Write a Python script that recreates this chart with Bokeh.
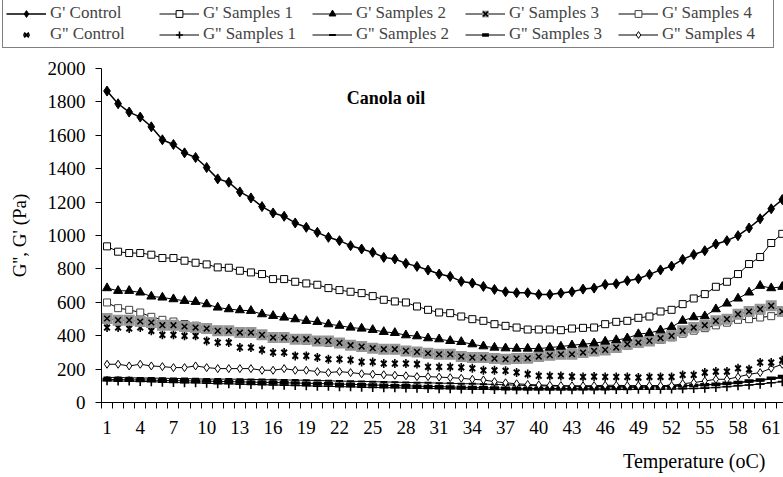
import math
from bokeh.plotting import figure
from bokeh.layouts import column, row
from bokeh.models import Range1d, FixedTicker, Legend, LegendItem, Label, ColumnDataSource
from bokeh.embed import file_html
from bokeh.resources import INLINE

temperature = list(range(1, 63))
x_tick_labels = list(range(1, 62, 3))
y_ticks = list(range(0, 2001, 200))

g1_control = [1865,1789,1739,1709,1651,1573,1545,1495,1467,1407,
              1339,1319,1261,1225,1173,1135,1115,1075,1049,1019,
              989,969,939,919,899,869,859,833,815,793,
              769,755,725,715,695,677,663,657,657,647,
              647,655,663,679,685,707,711,729,741,767,
              794,817,857,886,909,949,969,999,1045,1100,
              1160,1215]
g1_s1 = [935,903,895,895,885,865,865,849,837,827,
         809,807,789,779,769,739,739,723,713,705,
         685,673,663,655,637,615,605,599,575,555,
         539,535,515,499,489,469,459,449,437,437,
         437,433,443,447,449,469,483,489,507,515,
         545,555,589,623,649,693,723,769,829,871,
         955,1010]
g1_s2 = [685,669,669,659,635,629,619,609,603,589,
         569,559,553,549,529,519,509,499,489,483,
         469,460,449,443,435,423,417,403,397,385,
         379,369,363,349,337,329,325,323,323,323,
         329,335,343,349,355,365,374,385,410,416,
         433,452,490,511,517,559,593,623,659,699,
         685,693]
g1_s3 = [503,493,493,485,479,463,463,455,449,443,
         429,429,419,419,405,389,389,379,379,369,
         369,357,343,335,325,319,319,309,303,295,
         289,289,275,269,269,263,259,263,265,275,
         283,289,289,299,309,315,329,349,359,369,
         385,399,429,449,463,489,499,529,545,559,
         579,545]
g1_s4 = [599,565,555,539,513,495,485,470,460,450,
         435,428,418,410,400,392,385,376,370,362,
         357,350,342,334,325,318,313,307,300,294,
         288,285,278,272,268,264,260,262,265,270,
         278,284,288,295,305,312,325,340,352,362,
         375,390,412,430,445,462,478,495,499,509,
         517,539]
g2_control = [449,449,443,449,429,405,405,399,399,369,
              359,359,329,329,315,299,299,279,279,269,
              259,259,255,243,243,233,233,233,230,213,
              213,213,210,205,193,193,190,180,170,160,
              159,159,155,153,155,153,153,153,149,153,
              153,153,165,165,179,185,185,205,199,239,
              239,253]
g2_s1 = [130,128,128,126,125,122,120,118,118,115,
         113,112,110,108,107,105,104,102,100,98,
         97,95,94,92,90,89,88,87,85,84,
         83,82,81,80,79,78,77,77,76,76,
         76,76,76,76,77,77,78,78,79,80,
         80,81,82,84,86,90,95,100,105,110,
         118,125]
g2_s2 = [150,150,148,147,146,145,144,143,142,140,
         140,140,139,138,137,136,135,134,133,132,
         130,128,127,126,125,123,122,120,119,118,
         116,115,113,112,110,108,106,104,102,100,
         99,98,97,96,96,96,96,97,97,98,
         99,100,101,103,105,108,112,118,125,132,
         140,148]
g2_s3 = [138,137,136,135,134,132,131,130,129,128,
         126,125,124,122,121,120,118,117,115,114,
         112,110,109,107,105,103,101,100,98,96,
         95,93,91,90,88,87,86,85,84,84,
         84,84,84,85,85,86,87,88,90,92,
         94,96,99,102,106,110,115,120,128,135,
         145,155]
g2_s4 = [229,229,219,229,219,215,209,209,219,209,
         203,203,203,203,193,193,203,193,193,185,
         179,185,179,172,169,166,163,160,155,155,
         152,149,145,139,135,125,118,112,108,105,
         103,101,100,100,101,103,103,101,101,101,
         101,101,113,119,129,139,139,153,169,179,
         205,229]

series_names = ["G' Control", "G' Samples 1", "G' Samples 2", "G' Samples 3", "G' Samples 4",
                "G'' Control", "G'' Samples 1", "G'' Samples 2", "G'' Samples 3", "G'' Samples 4"]

FONT = "Liberation Serif"
GRAY = "#969696"

STYLES = {
    "g2_s1": [("line", dict(line_color="black", line_width=1)),
              ("scatter", dict(marker="cross", size=9, line_color="black", line_width=1.6))],
    "g2_s2": [("line", dict(line_color="black", line_width=1)),
              ("scatter", dict(marker="dash", size=7, line_color="black", line_width=2))],
    "g2_s3": [("line", dict(line_color="black", line_width=1)),
              ("scatter", dict(marker="dash", size=9, line_color="black", line_width=3.5))],
    "g2_s4": [("line", dict(line_color="black", line_width=1)),
              ("scatter", dict(marker="diamond", size=8, fill_color="white",
                               line_color="black", line_width=1))],
    "g2_c": [("scatter", dict(marker="x", size=8, line_color="black", line_width=2)),
             ("scatter", dict(marker="dash", angle=math.pi / 2, size=9, line_color="black", line_width=1.6))],
    "g1_s4": [("line", dict(line_color="black", line_width=1)),
              ("scatter", dict(marker="square", size=7, fill_color="white", line_color="#444444", line_width=1))],
    "g1_s3": [("line", dict(line_color="black", line_width=1)),
              ("scatter", dict(marker="square", size=11, fill_color=GRAY, line_color=None)),
              ("scatter", dict(marker="x", size=8, line_color="black", line_width=1.5))],
    "g1_s2": [("line", dict(line_color="black", line_width=1)),
              ("scatter", dict(marker="triangle", size=9, fill_color="black", line_color="black"))],
    "g1_s1": [("line", dict(line_color="black", line_width=1)),
              ("scatter", dict(marker="square", size=7, fill_color="white", line_color="black", line_width=1))],
    "g1_c": [("line", dict(line_color="black", line_width=1.5)),
             ("scatter", dict(marker="diamond", size=10, fill_color="black", line_color="black"))],
}
DATA = {"g1_c": g1_control, "g1_s1": g1_s1, "g1_s2": g1_s2, "g1_s3": g1_s3, "g1_s4": g1_s4,
        "g2_c": g2_control, "g2_s1": g2_s1, "g2_s2": g2_s2, "g2_s3": g2_s3, "g2_s4": g2_s4}
DRAW_ORDER = ["g2_s1", "g2_s2", "g2_s3", "g2_s4", "g2_c", "g1_s4", "g1_s3", "g1_s2", "g1_s1", "g1_c"]
LEGEND_ORDER = ["g1_c", "g1_s1", "g1_s2", "g1_s3", "g1_s4", "g2_c", "g2_s1", "g2_s2", "g2_s3", "g2_s4"]

src = ColumnDataSource(dict(t=temperature, **DATA))

# ---------------- main chart ----------------
p = figure(width=783, height=396, output_backend="svg", toolbar_location=None,
           x_range=Range1d(0.5, 62.11), y_range=Range1d(0, 2000),
           min_border_left=101, min_border_right=0, min_border_top=17, min_border_bottom=45)
p.xgrid.visible = False
p.ygrid.visible = False
p.outline_line_color = None

for key in DRAW_ORDER:
    for kind, kw in STYLES[key]:
        getattr(p, kind)("t", key, source=src, **kw)

# ---------------- legend strip: same series, viewed outside their range ----------------
lg = figure(width=783, height=51, output_backend="svg", toolbar_location=None,
            x_axis_type=None, y_axis_type=None, x_range=Range1d(1000, 1001), y_range=Range1d(0, 1),
            min_border_left=0, min_border_right=0, min_border_top=0, min_border_bottom=0)
lg.xgrid.visible = False
lg.ygrid.visible = False
lg.outline_line_color = None
items = []
for key, name in zip(LEGEND_ORDER, series_names):
    rs = [getattr(lg, kind)("t", key, source=src, **kw) for kind, kw in STYLES[key]]
    items.append(LegendItem(label=name, renderers=rs))
legend = Legend(items=items, orientation="horizontal", ncols=5, location=(2, 3),
                margin=0, padding=3, spacing=1, glyph_width=40, glyph_height=17,
                label_standoff=4, label_width=108, label_height=17,
                label_text_font=FONT, label_text_font_size="17px",
                border_line_color="black", border_line_width=1,
                background_fill_color="white", background_fill_alpha=1)
lg.add_layout(legend)

# ---------------- bottom strip carrying the x-axis title at the right ----------------
bt = figure(width=783, height=30, output_backend="svg", toolbar_location=None,
            x_axis_type=None, y_axis_type=None, x_range=Range1d(0, 1), y_range=Range1d(0, 1),
            min_border_left=0, min_border_right=0, min_border_top=0, min_border_bottom=0)
bt.xgrid.visible = False
bt.ygrid.visible = False
bt.outline_line_color = None
bt.add_layout(Label(x=765, y=17, x_units="screen", y_units="screen", text="Temperature (oC)",
                    text_align="right", text_baseline="middle", text_font=FONT,
                    text_font_size="20px", text_color="black"))

# x axis
xa = p.xaxis[0]
xa.ticker = FixedTicker(ticks=x_tick_labels, minor_ticks=[v - 0.5 for v in temperature] + [62.5])
xa.major_tick_out = 0
xa.major_tick_in = 0
xa.minor_tick_out = 6
xa.minor_tick_in = 0
xa.minor_tick_line_color = "black"
xa.axis_line_color = "black"
xa.major_label_standoff = 12
xa.major_label_text_font = FONT
xa.major_label_text_font_size = "19px"
xa.major_label_text_color = "black"

# y axis
ya = p.yaxis[0]
ya.ticker = FixedTicker(ticks=y_ticks)
ya.major_tick_out = 6
ya.major_tick_in = 0
ya.minor_tick_line_color = None
ya.axis_line_color = "black"
ya.major_label_standoff = 10
ya.major_label_text_font = FONT
ya.major_label_text_font_size = "19px"
ya.major_label_text_color = "black"
ya.axis_label = "G'', G' (Pa)"
ya.axis_label_text_font = FONT
ya.axis_label_text_font_size = "19px"
ya.axis_label_text_font_style = "normal"
ya.axis_label_text_color = "black"
ya.axis_label_standoff = 15

p.add_layout(Label(x=26.2, y=1826, text="Canola oil", text_align="center", text_baseline="middle",
                   text_font=FONT, text_font_size="18px", text_font_style="bold", text_color="black"))

page = column(row(lg), p, row(bt), spacing=0)
open("out.html", "w").write(file_html(page, INLINE))
